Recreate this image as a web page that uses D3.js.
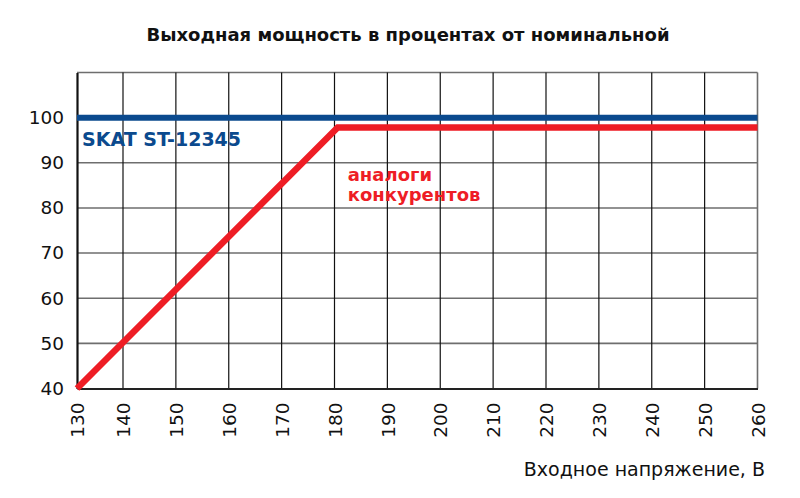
<!DOCTYPE html>
<html>
  <head>
    <meta charset="UTF-8">
    <title>Выходная мощность</title>
    <script src="https://d3js.org/d3.v7.min.js"></script>
    <style>
      body { margin: 0; background: #fff; }
      svg text { font-family: "DejaVu Sans", sans-serif; }
    </style>
  </head>
  <body>
    <div id="graph"></div>
    <script>

// tick values
const xTicks = [130, 140, 150, 160, 170, 180, 190, 200, 210, 220, 230, 240, 250, 260];
const yTicks = [40, 50, 60, 70, 80, 90, 100];

// series
const skatVoltage = [130, 260];
const skatPower = [100, 100];
const rivalVoltage = [130, 180.6, 260];
const rivalPower = [40, 97.8, 97.8];

const titleText = "Выходная мощность в процентах от номинальной";
const xLabel = "Входное напряжение, В";
const skatLabel = "SKAT ST-12345";
const rivalLabel = ["аналоги", "конкурентов"];

const svgWidth = 800;
const svgHeight = 498;

const margin = {top: 72.5, left: 77};
const chartWidth = 680.5;
const chartHeight = 316;

const svg = d3.select("#graph")
  .append("svg")
  .attr("width", svgWidth)
  .attr("height", svgHeight);

const chart = svg.append("g")
  .attr("transform", "translate(" + margin.left + "," + margin.top + ")");

// first column in the original is narrower than the others
const xScale = d3.scaleLinear()
  .domain([130, 140, 260])
  .range([0, 46, chartWidth]);

const yScale = d3.scaleLinear()
  .domain([40, 110])
  .range([chartHeight, 0]);

// horizontal grid
chart.selectAll(".hgrid")
  .data(yTicks.slice(1).concat([110]))
  .enter()
  .append("line")
  .attr("x1", 0)
  .attr("x2", chartWidth)
  .attr("y1", d => yScale(d))
  .attr("y2", d => yScale(d))
  .attr("stroke", "#6e6e6e")
  .attr("stroke-width", 1.6);

// vertical grid
chart.selectAll(".vgrid")
  .data(xTicks.slice(1, -1))
  .enter()
  .append("line")
  .attr("x1", d => xScale(d))
  .attr("x2", d => xScale(d))
  .attr("y1", 0)
  .attr("y2", chartHeight)
  .attr("stroke", "#111")
  .attr("stroke-width", 1.2);

// right border
chart.append("line")
  .attr("x1", xScale(260)).attr("x2", xScale(260))
  .attr("y1", 0).attr("y2", chartHeight)
  .attr("stroke", "#6e6e6e")
  .attr("stroke-width", 1.6);

// axes
const xAxis = d3.axisBottom(xScale).tickValues(xTicks).tickSize(0).tickPadding(0);
const yAxis = d3.axisLeft(yScale).tickValues(yTicks).tickSize(0).tickPadding(13);

const gx = chart.append("g")
  .attr("transform", "translate(0," + chartHeight + ")")
  .call(xAxis);
gx.select(".domain").attr("stroke", "#222").attr("stroke-width", 2.2);
gx.selectAll("text")
  .attr("transform", "rotate(-90)")
  .attr("x", -14)
  .attr("y", 0)
  .attr("dy", "0.36em")
  .style("text-anchor", "end")
  .style("font-size", "18.5px")
  .style("font-family", "'DejaVu Sans', sans-serif")
  .attr("fill", "#111");

const gy = chart.append("g").call(yAxis);
gy.select(".domain").attr("stroke", "#111").attr("stroke-width", 2.2);
gy.selectAll("text")
  .style("font-size", "18.5px")
  .style("font-family", "'DejaVu Sans', sans-serif")
  .attr("fill", "#111");

// series lines
const line = d3.line()
  .x(d => xScale(d[0]))
  .y(d => yScale(d[1]));

chart.append("path")
  .datum(d3.zip(skatVoltage, skatPower))
  .attr("d", line)
  .attr("fill", "none")
  .attr("stroke", "#0b4a8e")
  .attr("stroke-width", 6);

chart.append("path")
  .datum(d3.zip(rivalVoltage, rivalPower))
  .attr("d", line)
  .attr("fill", "none")
  .attr("stroke", "#ee1d25")
  .attr("stroke-width", 6.5)
  .attr("stroke-linejoin", "miter");

// series labels
chart.append("text")
  .attr("x", xScale(130) + 5)
  .attr("y", yScale(93.8))
  .attr("fill", "#0b4a8e")
  .style("font-size", "19px")
  .style("font-weight", "bold")
  .text(skatLabel);

chart.selectAll(".rival")
  .data(rivalLabel)
  .enter()
  .append("text")
  .attr("x", xScale(182.5))
  .attr("y", (d, i) => yScale(86) + i * 20)
  .attr("fill", "#ee1d25")
  .style("font-size", "18px")
  .style("font-weight", "bold")
  .text(d => d);

// title
svg.append("text")
  .attr("x", 408)
  .attr("y", 41)
  .attr("text-anchor", "middle")
  .style("font-size", "18px")
  .style("font-weight", "bold")
  .attr("fill", "#111")
  .text(titleText);

// x axis label
svg.append("text")
  .attr("x", 765)
  .attr("y", 476)
  .attr("text-anchor", "end")
  .style("font-size", "19px")
  .attr("fill", "#111")
  .text(xLabel);

    </script>
  </body>
</html>
